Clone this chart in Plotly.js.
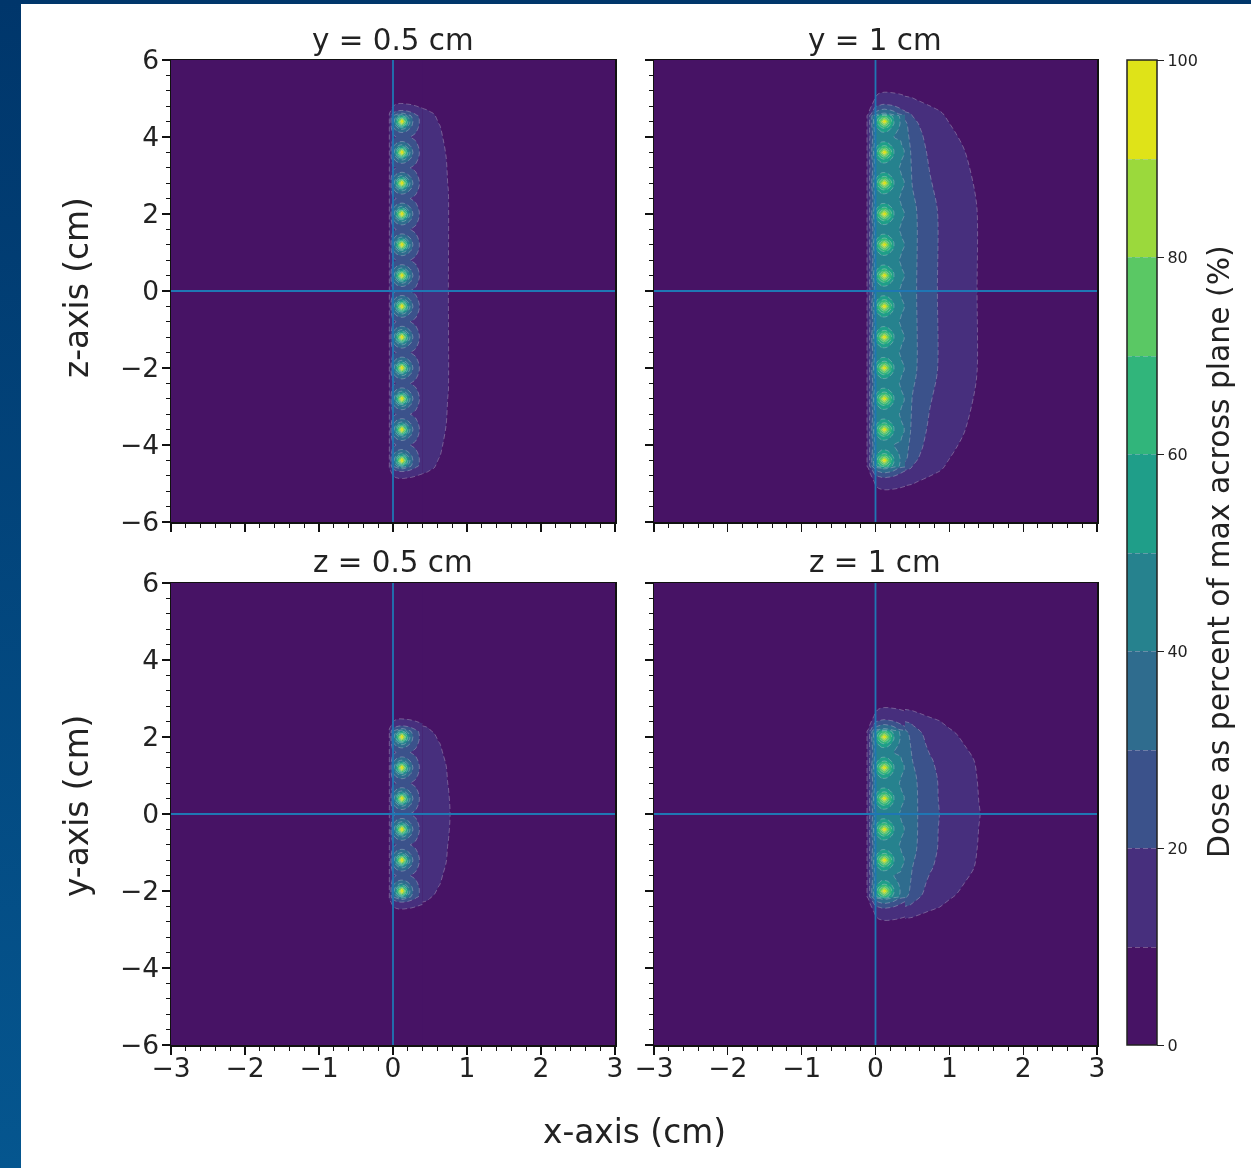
<!DOCTYPE html>
<html><head><meta charset="utf-8">
<script src="https://cdn.plot.ly/plotly-3.0.1.min.js"></script>
<style>
html,body{margin:0;padding:0;width:1251px;height:1168px;overflow:hidden;background:linear-gradient(#00366b,#05568f);}
#sheet{position:absolute;left:21px;top:4px;width:1230px;height:1164px;background:#fff;}
#plot{position:absolute;left:0;top:0;width:1251px;height:1168px;filter:blur(.45px);}
</style></head><body><div id="sheet"></div><div id="plot"></div>
<script>
// x sample positions (cm) of the seed-region grid and of the far-field grid
const headX=[-3,-.14,-.115,-.08,-.05,0,.04,.08,.12,.16,.2,.25,.32,.4];
const tailX=[.39,.5,.62,.74,.85,1,1.2,1.4,1.6,2,3];

// seed positions
const seedsAlongZ=[.4,1.2,2,2.8,3.6,4.4];
const seedsAlongY=[.4,1.2,2];

// row offset from a seed (cm)
const bodyOffsets=[0,.05,.1,.15,.2,.3,.4];

// Plane at 0.5 cm: dose on rows at each offset from a seed
const nearHead00=[0,0,1,5,10,33,50,78,100,78,50,33,22,17.5];
const nearHead05=[0,0,1,5,10,32,48,70,92,70,48,32,22,17.5];
const nearHead10=[0,0,1,5,10,31,42,58,68,58,42,31,21.5,17.5];
const nearHead15=[0,0,1,5,10,29,36,45,50,45,36,29,21,17.5];
const nearHead20=[0,0,1,5,10,26,32,37,40,37,32,26,20.5,17.5];
const nearHead30=[0,0,1,5,10,22,25,27,28,27,25,22,19.5,17.5];
const nearHead40=[0,0,1,5,10,17,20,23,24,23,21,19.5,18,17.5];
// rows past the last seed
const nearCapOffsets=[.2,.3,.38,.46,.6,1];
const nearCap20=[0,0,1,5,10,22,27,31,33,31,27,23,18.5,14.5];
const nearCap30=[0,0,.5,4,7,13,16,18,18.5,18,17,15.5,13.5,11.5];
const nearCap38=[0,0,.5,3.5,5.5,10.5,12.5,13.5,13.8,13.4,13,12,10.6,9];
const nearCap46=[0,0,.3,2.5,4.5,8,9.6,10.2,10.2,10.1,9.8,9.3,8.4,7.6];
const nearCap60=[0,0,.2,2,3.5,6,7,7.5,7.6,7.5,7.3,7,6.5,6];
const nearCap100=[0,0,.1,1,1.8,3,3.5,3.8,3.8,3.8,3.7,3.5,3.3,3.1];
// far-field columns for the 0.5 cm plane
const t77=[17.5,15.5,12.6,10.4,9,7.5,6,5,4,3,1];
const t75=[17.5,15.2,12.4,10.1,8.8,7.3,5.8,4.8,4,3,1];
const t71=[17.5,14.8,11.8,9.6,8.4,7,5.6,4.6,3.8,2.8,1];
const t65=[17.5,14,10.9,9,7.8,6.5,5.2,4.3,3.6,2.6,1];
const t60=[17,13,10.2,8.5,7.3,6,4.8,4,3.4,2.4,1];
const t52=[14.5,11,8.8,7.4,6.4,5.3,4.3,3.6,3,2.2,1];
const t47=[11.5,9.3,7.6,6.4,5.6,4.7,3.8,3.2,2.7,2,.8];
const t36=[9,7.6,6.4,5.5,4.9,4.1,3.4,2.9,2.5,1.8,.8];
const t20=[7.6,6.6,5.7,5,4.4,3.7,3.1,2.6,2.2,1.6,.7];
const t10=[6,5.4,4.8,4.2,3.8,3.2,2.7,2.3,2,1.5,.6];
const t00=[3.1,3,2.6,2.3,2,1.8,1.5,1.2,1,.8,.3];
const zeroTail=[0,0,0,0,0,0,0,0,0,0,0];

// Plane at 1 cm
const farHead00=[0,2,10,20,30,52,66,84,100,84,66,50,43,39.5];
const farHead05=[0,2,10,20,30,51,64,76,88,76,64,50,43,39.5];
const farHead10=[0,2,10,20,30,49,59,68,76,68,59,48,42.5,39];
const farHead15=[0,2,10,20,29,47,54,61,65,61,54,46,42,38.5];
const farHead20=[0,2,10,20,28,46,50,54,56,54,50,45,41.5,38];
const farHead30=[0,2,10,20,27,44,47,48,48,47,46,44,41,37];
const farHead40=[0,2,10,19,25,42,44,45,46,45,44,42,40.2,35];
// rows around the last seed of the 1 cm plane, where the 40 % ring is narrower
const farEnd00=[0,2,10,20,30,52,66,84,100,84,66,50,41,34.5];
const farEnd05=[0,2,10,20,30,51,64,76,88,76,64,50,41,34.5];
const farEnd10=[0,2,10,20,30,49,59,68,76,68,59,47,40.5,34];
const farEnd15=[0,2,10,20,29,47,54,61,65,61,54,45,40,33.5];
const farEnd20=[0,2,10,20,28,46,50,54,56,54,50,43,39.5,33];
const farEnd30=[0,2,10,20,27,44,47,48,48,47,45,42,37,33];
const farEnd40=[0,2,10,19,25,42,44,45,46,45,43,40,36,32];
const farCapOffsets=[.2,.3,.43,.56,.75,1];
const farCap20=[0,1,6,14,22,34,38,41,42,41,39,34,29.5,25];
const farCap30=[0,.5,4,10,16,26,29,31,32,31,30,28,23,18.5];
const farCap43=[0,.3,2,6,10,17,19,20.5,21,20.5,20,18.5,16,14];
const farCap56=[0,.2,1,4,7,11.5,13,14,14.5,14,13.5,13,12.5,11.5];
const farCap75=[0,.1,.5,2,4,8,9.5,10,10.2,10.2,10.1,9.9,9.5,9];
const farCap100=[0,0,.2,1,2,5,6,6.5,6.6,6.6,6.6,6.5,6.4,6.2];
const fA=[38.5,32.5,28.3,24,20.3,17.3,13.4,10.2,8,5,1.5];
const fB=[38,32,27.8,23.3,19.6,16.8,12.9,9.6,7.6,4.8,1.5];
const fC=[36,30,26,21,18,15.5,12,9,7.2,4.6,1.4];
const fD=[35,28.5,22.5,18,15.5,13,10.1,7.8,6.2,4,1.2];
const fM=[34,26,20.5,15.5,13.2,11,8.7,7,5.6,3.8,1.1];
const fE=[33,23.5,18,14.5,12,10,7.8,6.2,5,3.4,1];
const fF=[25,19,14.5,12.5,10.8,9,7,5.6,4.6,3.2,1];
const fG=[18.5,15,13,11.5,10.2,8.6,6.8,5.5,4.5,3.1,1];
const fH=[14,12.5,11,9.7,8.7,7.5,6,5,4.2,3,1];
const fI=[11.5,10.6,9.4,8.5,7.8,6.8,5.6,4.7,3.9,2.8,1];
const fJ=[9,8.8,8,7.3,6.7,6,5,4.3,3.7,2.7,1];
const fK=[6.2,5.8,5.4,5,4.7,4.2,3.6,3.1,2.7,2,.8];

// far-field rows per panel: |position| -> column values
const farRows1=[[0,t75],[2.6,t75],[3.48,t71],[3.95,t65],[4.3,t60],[4.6,t52],[4.7,t47],[4.78,t36],[4.86,t20],[5,t10],[5.4,t00],[6,zeroTail]];
const farRows3=[[0,t77],[.69,t75],[1.26,t71],[1.55,t65],[1.83,t60],[2.1,t52],[2.25,t47],[2.32,t36],[2.42,t20],[2.6,t10],[3,t00],[6,zeroTail]];
const farRows2=[[0,fB],[2.1,fB],[2.7,fC],[3.65,fD],[4.1,fM],[4.36,fE],[4.6,fF],[4.68,fG],[4.83,fH],[4.96,fI],[5.13,fJ],[5.4,fK],[6,zeroTail]];
const farRows4=[[0,fA],[.92,fB],[1.4,fC],[1.78,fD],[2.1,fM],[2.35,fF],[2.42,fG],[2.53,fH],[2.64,fI],[2.77,fJ],[3.1,fK],[6,zeroTail]];

const nearBody=[nearHead00,nearHead05,nearHead10,nearHead15,nearHead20,nearHead30,nearHead40];
const farBody=[farHead00,farHead05,farHead10,farHead15,farHead20,farHead30,farHead40];
const farEndBody=[farEnd00,farEnd05,farEnd10,farEnd15,farEnd20,farEnd30,farEnd40];
const nearCaps=[nearCap20,nearCap30,nearCap38,nearCap46,nearCap60,nearCap100];
const farCaps=[farCap20,farCap30,farCap43,farCap56,farCap75,farCap100];

const bandColors=['#471365','#472f7d','#3b528b','#2f6c8e','#26828e','#1f9e89','#31b57b','#5ac864','#9bd93c','#dfe318'];
const colorLevels=[0,10,20,30,40,50,60,70,80,90,100];
const cbTicks=[0,20,40,60,80,100];

function mirror(rows){
  const ys=rows.map(r=>r[0]),zs=rows.map(r=>r[1]);
  return {y:ys.slice(1).reverse().map(v=>-v).concat(ys),z:zs.slice(1).reverse().concat(zs)};
}
function seedTable(seeds,body,endBody,caps,capOffsets){
  const rows=[[0,body[6]]];
  seeds.forEach((s,i)=>{
    const last=i===seeds.length-1;
    const b=last?endBody:body;
    for(let k=5;k>=1;k--) rows.push([s-bodyOffsets[k],b[k]]);
    for(let k=0;k<=(last?3:5);k++) rows.push([s+bodyOffsets[k],b[k]]);
    if(!last) rows.push([s+bodyOffsets[6],i===seeds.length-2?endBody[6]:body[6]]);
    if(last) capOffsets.forEach((o,j)=>rows.push([s+o,caps[j]]));
  });
  rows.push([6,headX.map(()=>0)]);
  return mirror(rows);
}

const cs=[];
bandColors.forEach((c,i)=>{cs.push([colorLevels[i]/100,c]);cs.push([colorLevels[i+1]/100,c]);});

const panels=[
 {ax:'',seed:seedTable(seedsAlongZ,nearBody,nearBody,nearCaps,nearCapOffsets),far:mirror(farRows1)},
 {ax:'2',seed:seedTable(seedsAlongZ,farBody,farEndBody,farCaps,farCapOffsets),far:mirror(farRows2)},
 {ax:'3',seed:seedTable(seedsAlongY,nearBody,nearBody,nearCaps,nearCapOffsets),far:mirror(farRows3)},
 {ax:'4',seed:seedTable(seedsAlongY,farBody,farEndBody,farCaps,farCapOffsets),far:mirror(farRows4)}
];
const xRange=[-3,3], yRange=[-6,6];
const data=[];
function contour(x,t,ax,scale){
  const tr={type:'contour',x:x,y:t.y,z:t.z,xaxis:'x'+ax,yaxis:'y'+ax,
    autocontour:false,contours:{start:10,end:90,size:10,coloring:'fill',showlines:true},
    line:{color:'rgba(205,205,215,.36)',width:1,dash:'5px,3px',smoothing:.9},
    colorscale:cs,zmin:0,zmax:100,zauto:false,hoverinfo:'skip',showscale:scale};
  if(scale) tr.colorbar={x:1127/1251,xanchor:'left',xpad:0,
    y:1-60/1168,yanchor:'top',ypad:0,lenmode:'pixels',len:985,thickness:30,thicknessmode:'pixels',
    outlinecolor:'#222',outlinewidth:1.5,ticks:'outside',ticklen:7,tickwidth:1,tickcolor:'#222',
    tickvals:cbTicks,ticktext:cbTicks.map(String),tickfont:{family:'DejaVu Sans',size:16,color:'#222'},bgcolor:'rgba(0,0,0,0)',borderwidth:0};
  return tr;
}
panels.forEach((p,i)=>{
  data.push(contour(tailX,p.far,p.ax,false));
  data.push(contour(headX,p.seed,p.ax,i===0));
  data.push({type:'scatter',mode:'lines',x:[0,0],y:yRange,xaxis:'x'+p.ax,yaxis:'y'+p.ax,line:{color:'#1f77b4',width:1.8},hoverinfo:'skip',showlegend:false});
  data.push({type:'scatter',mode:'lines',x:xRange,y:[0,0],xaxis:'x'+p.ax,yaxis:'y'+p.ax,line:{color:'#1f77b4',width:1.8},hoverinfo:'skip',showlegend:false});
});

const W=1251,H=1168;
const fx=(a,b)=>[a/W,b/W], fy=(top,bot)=>[1-bot/H,1-top/H];
const tf={family:'DejaVu Sans',size:26.5,color:'#222'};
function xa(dom,lab,anchor){return {domain:dom,range:xRange,anchor:anchor,tick0:-3,dtick:1,ticks:'outside',ticklen:8,tickwidth:1.3,tickcolor:'#111',ticklabelstandoff:-9,
  minor:{dtick:.2,ticks:'outside',ticklen:4,tickwidth:1,tickcolor:'#111'},showticklabels:lab,tickfont:tf,showgrid:false,zeroline:false,showline:true,mirror:true,linecolor:'#111',linewidth:1.5};}
function ya(dom,lab,anchor){return {domain:dom,range:yRange,anchor:anchor,tick0:-6,dtick:2,ticks:'outside',ticklen:8,tickwidth:1.3,tickcolor:'#111',ticklabelstandoff:-3,
  minor:{dtick:.4,ticks:'outside',ticklen:4,tickwidth:1,tickcolor:'#111'},showticklabels:lab,tickfont:tf,showgrid:false,zeroline:false,showline:true,mirror:true,linecolor:'#111',linewidth:1.5};}
const ann=(text,px,py,size,angle)=>({text:text,xref:'paper',yref:'paper',x:px/W,y:1-py/H,xanchor:'center',yanchor:'middle',showarrow:false,textangle:angle||0,font:{family:'DejaVu Sans',size:size,color:'#222'}});
const layout={width:W,height:H,margin:{l:0,r:0,t:0,b:0,autoexpand:false},paper_bgcolor:'rgba(0,0,0,0)',plot_bgcolor:'#471365',showlegend:false,
  xaxis:xa(fx(171,615),false,'y'),yaxis:ya(fy(60,522),true,'x'),
  xaxis2:xa(fx(654,1097),false,'y2'),yaxis2:ya(fy(60,522),false,'x2'),
  xaxis3:xa(fx(171,615),true,'y3'),yaxis3:ya(fy(583,1045),true,'x3'),
  xaxis4:xa(fx(654,1097),true,'y4'),yaxis4:ya(fy(583,1045),false,'x4'),
  annotations:[
    ann('y = 0.5 cm',393,40,29.4),ann('y = 1 cm',875,40,29.4),ann('z = 0.5 cm',393,562,29.4),ann('z = 1 cm',875,562,29.4),
    ann('x-axis (cm)',634,1132,32.8),ann('z-axis (cm)',77,288,32.8,-90),ann('y-axis (cm)',77,806,32.8,-90),
    ann('Dose as percent of max across plane (%)',1218,552,29.8,-90)
  ]};
Plotly.newPlot('plot',data,layout,{staticPlot:true,displayModeBar:false});
</script></body></html>
